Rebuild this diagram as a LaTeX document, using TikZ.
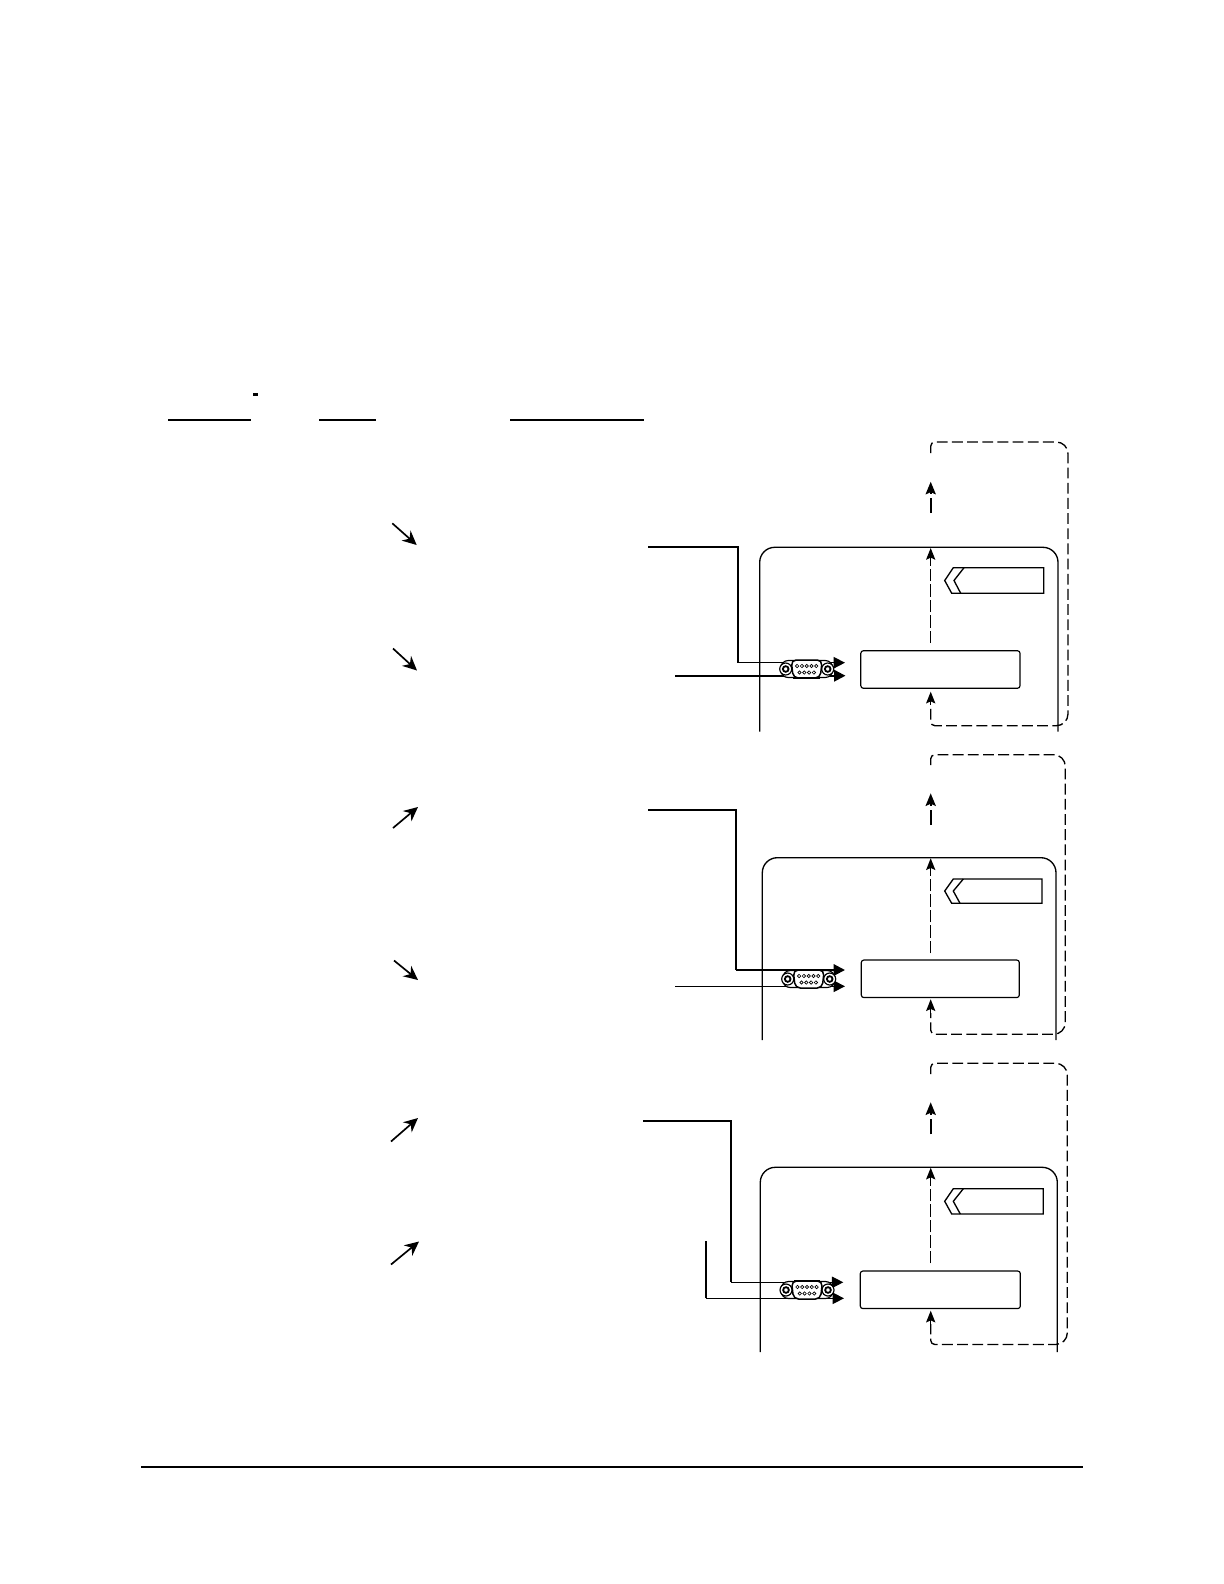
\documentclass[tikz,border=0pt]{standalone}
\usepackage{xcolor}
\usepackage{tikz}
\usetikzlibrary{arrows.meta,positioning}

\begin{document}
\begin{tikzpicture}[
    x=0.6pt, y=-0.6pt,
    box/.style={rectangle, draw, rounded corners=1.5pt, line width=0.7pt, minimum width=95.5pt, minimum height=22.5pt, inner sep=0pt},
    frame/.style={draw, line width=0.8pt, rounded corners=9pt},
    tag/.style={draw, line width=0.8pt},
    rule/.style={line width=1.2pt},
    feed/.style={line width=0.9pt, -{Triangle[length=6.8pt, width=6.8pt]}},
    feedthick/.style={line width=1.3pt, -{Triangle[length=6.8pt, width=6.8pt]}},
    dashline/.style={line width=0.8pt, dash pattern=on 6.5pt off 2.6pt},
    uparrow/.style={line width=0.8pt, dash pattern=on 7.4pt off 1.9pt, -{Stealth[length=7pt, width=5.5pt, inset=1.2pt]}},
    tiparrow/.style={line width=0.8pt, -{Stealth[length=7pt, width=5.5pt, inset=1.2pt]}},
    sidearrow/.style={line width=1pt, -{Stealth[length=8.5pt, width=8pt]}},
    outarrow/.style={line width=1.4pt, dash pattern=on 9pt off 2.5pt, -{Stealth[length=7.5pt, width=6pt, inset=1.2pt]}},
    dsub/.pic={
        \draw[line width=0.7pt, fill=white, rounded corners=4.5pt] (-26,-8.5) rectangle (26,8.5);
        \draw[line width=0.7pt, fill=white] (-21,0) circle (3.6pt);
        \draw[line width=1.1pt, fill=white] (-21,0) circle (1.7pt);
        \draw[line width=0.7pt, fill=white] (21,0) circle (3.6pt);
        \draw[line width=1.1pt, fill=white] (21,0) circle (1.7pt);
        \draw[line width=0.9pt, fill=white, rounded corners=3pt] (-15.5,-9) -- (15.5,-9) -- (13.5,9) -- (-13.5,9) -- cycle;
        \draw[line width=0.4pt] (-9.6,-3) circle (1pt) (-4.8,-3) circle (1pt) (0,-3) circle (1pt) (4.8,-3) circle (1pt) (9.6,-3) circle (1pt);
        \draw[line width=0.4pt] (-7.2,3.5) circle (1pt) (-2.4,3.5) circle (1pt) (2.4,3.5) circle (1pt) (7.2,3.5) circle (1pt);
    }
]
\useasboundingbox (0,0) rectangle (1224,1584);

% Header rules
\coordinate (h1a) at (168,419.7);
\coordinate (h1b) at (250.7,419.7);
\coordinate (h2a) at (319.3,419.7);
\coordinate (h2b) at (376,419.7);
\coordinate (h3a) at (510,419.7);
\coordinate (h3b) at (644,419.7);
\draw[rule] (h1a) -- (h1b);
\draw[rule] (h2a) -- (h2b);
\draw[rule] (h3a) -- (h3b);
\coordinate (tick1) at (253,394.3);
\coordinate (tick2) at (258,394.3);
\draw[line width=1.6pt] (tick1) -- (tick2);

% Panel 1
\node[box] (box1) at (940.4,669.5) {};
\coordinate (in1a) at (648,547.3);
\coordinate (bend1a) at (738,547.3);
\coordinate (bend1b) at (738,662.7);
\coordinate (tip1a) at (845,662.7);
\coordinate (in1c) at (675,675.7);
\coordinate (tip1c) at (845.5,675.7);
\draw[line width=1.2pt] (in1a) -- (bend1a) -- (bend1b);
\draw[feed] (bend1b) -- (tip1a);
\draw[feedthick] (in1c) -- (tip1c);
\draw[frame] (759.7,731.7) -- (759.7,547.3) -- (1058,547.3) -- (1058,731.7);
\pic at (806.7,669) {dsub};
\draw[line width=1pt] (793,677.7) -- (820,677.7);
\draw[tag] (953.3,567.7) -- (1043.7,567.7) -- (1043.7,593.3) -- (951.7,593.3) -- (944.7,580.5) -- cycle;
\draw[tag] (964,567.7) -- (954,580.5) -- (960.7,593.3);
\coordinate (up1a) at (930.7,643);
\coordinate (up1b) at (930.7,548);
\coordinate (out1a) at (930.7,513);
\coordinate (out1b) at (930.7,481.7);
\draw[uparrow] (up1a) -- (up1b);
\draw[outarrow] (out1a) -- (out1b);
\draw[dashline, rounded corners=2.5pt] (930.7,453) -- (930.7,442) [rounded corners=7pt] -- (1068,442) -- (1068,725.7) [rounded corners=2.5pt] -- (930.7,725.7) -- (930.7,705);
\draw[tiparrow] (930.7,705) -- (930.7,691.7);
\coordinate (sa1a) at (392.3,523.3);
\coordinate (sb1a) at (416.7,545);
\coordinate (sa1b) at (393,648.5);
\coordinate (sb1b) at (417,670.5);
\draw[sidearrow] (sa1a) -- (sb1a);
\draw[sidearrow] (sa1b) -- (sb1b);

% Panel 2
\node[box, minimum width=94.8pt] (box2) at (940.3,978.8) {};
\coordinate (in2a) at (648,810);
\coordinate (bend2a) at (736,810);
\coordinate (bend2b) at (736,970);
\coordinate (tip2a) at (845,970);
\coordinate (in2c) at (675,986.3);
\coordinate (tip2c) at (845,986.3);
\draw[line width=1.2pt] (in2a) -- (bend2a) -- (bend2b);
\draw[feedthick] (bend2b) -- (tip2a);
\draw[feed, line width=0.6pt] (in2c) -- (tip2c);
\draw[frame] (762.3,1040) -- (762.3,857.7) -- (1056,857.7) -- (1056,1040);
\pic at (808.7,979) {dsub};
\draw[tag] (953.3,879) -- (1042,879) -- (1042,903.3) -- (951.7,903.3) -- (944.7,891) -- cycle;
\draw[tag] (963.3,879) -- (953.3,891) -- (960,903.3);
\coordinate (up2a) at (930.7,953.3);
\coordinate (up2b) at (930.7,858.3);
\coordinate (out2a) at (930.7,825);
\coordinate (out2b) at (930.7,793.3);
\draw[uparrow] (up2a) -- (up2b);
\draw[outarrow] (out2a) -- (out2b);
\draw[dashline, rounded corners=2.5pt] (930.7,765) -- (930.7,754.7) [rounded corners=7pt] -- (1065.3,754.7) -- (1065.3,1034.3) [rounded corners=2.5pt] -- (930.7,1034.3) -- (930.7,1013);
\draw[tiparrow] (930.7,1013) -- (930.7,999.3);
\coordinate (sa2a) at (393,828);
\coordinate (sb2a) at (418,807);
\coordinate (sa2b) at (394,960.5);
\coordinate (sb2b) at (418,980);
\draw[sidearrow] (sa2a) -- (sb2a);
\draw[sidearrow] (sa2b) -- (sb2b);

% Panel 3
\node[box, minimum width=96pt] (box3) at (940.3,1289.8) {};
\coordinate (in3a) at (643.3,1121);
\coordinate (bend3a) at (731,1121);
\coordinate (bend3b) at (731,1282.3);
\coordinate (tip3a) at (843.3,1282.3);
\coordinate (in3c) at (705.7,1241);
\coordinate (bend3c) at (705.7,1298.3);
\coordinate (tip3c) at (844,1298.3);
\draw[line width=1.2pt] (in3a) -- (bend3a) -- (bend3b);
\draw[feed, line width=0.6pt] (bend3b) -- (tip3a);
\draw[line width=1.1pt] (in3c) -- (bend3c);
\draw[feed, line width=0.7pt] (bend3c) -- (tip3c);
\draw[frame] (760.3,1352) -- (760.3,1167.3) -- (1057.3,1167.3) -- (1057.3,1352);
\pic at (807,1290) {dsub};
\draw[line width=1pt] (794,1280.7) -- (820,1280.7);
\draw[tag] (953.3,1188.7) -- (1043.3,1188.7) -- (1043.3,1214) -- (951.7,1214) -- (944.7,1201.3) -- cycle;
\draw[tag] (963.3,1188.7) -- (953.3,1201.3) -- (960.3,1214);
\coordinate (up3a) at (930.7,1263.3);
\coordinate (up3b) at (930.7,1167.7);
\coordinate (out3a) at (930.7,1134.3);
\coordinate (out3b) at (930.7,1102.3);
\draw[uparrow] (up3a) -- (up3b);
\draw[outarrow] (out3a) -- (out3b);
\draw[dashline, rounded corners=2.5pt] (930.7,1074) -- (930.7,1063.3) [rounded corners=7pt] -- (1067.3,1063.3) -- (1067.3,1344.5) [rounded corners=2.5pt] -- (930.7,1344.5) -- (930.7,1324);
\draw[tiparrow] (930.7,1324) -- (930.7,1310.7);
\coordinate (sa3a) at (391,1141.5);
\coordinate (sb3a) at (418,1118);
\coordinate (sa3b) at (391,1264.5);
\coordinate (sb3b) at (419,1241.5);
\draw[sidearrow] (sa3a) -- (sb3a);
\draw[sidearrow] (sa3b) -- (sb3b);

% Footer rule
\coordinate (f1) at (141.4,1466.5);
\coordinate (f2) at (1082.7,1466.5);
\draw[rule] (f1) -- (f2);

\end{tikzpicture}
\end{document}
